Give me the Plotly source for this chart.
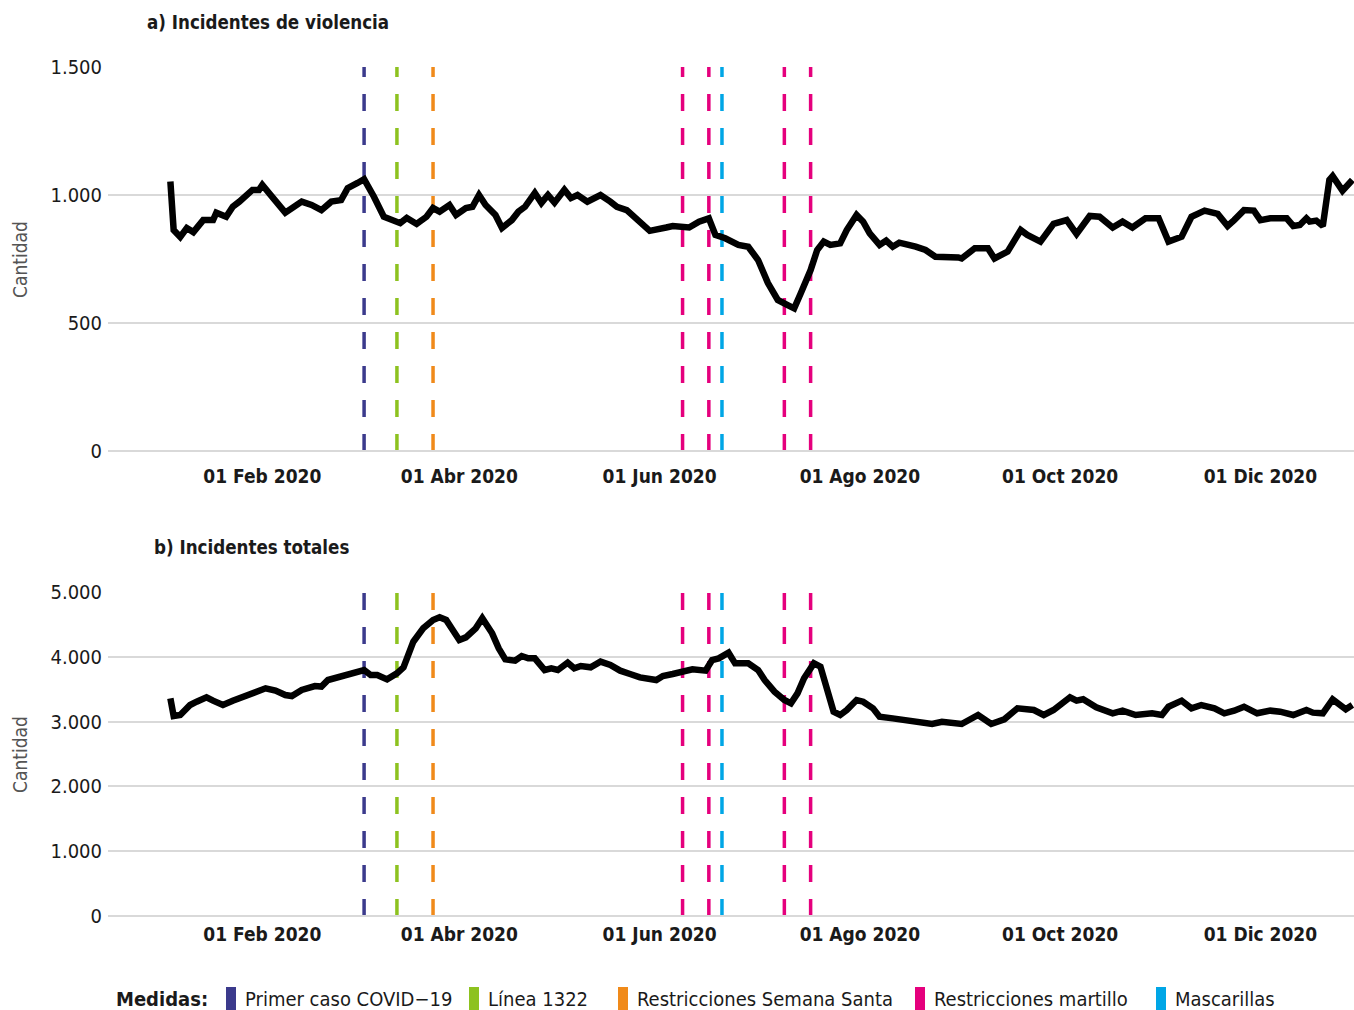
import plotly.graph_objects as go

# ---------------- data ----------------
viol_dates = [
    "2020-01-04", "2020-01-05", "2020-01-07", "2020-01-09", "2020-01-11", "2020-01-14", "2020-01-17",
    "2020-01-18", "2020-01-21", "2020-01-23", "2020-01-25", "2020-01-27", "2020-01-29", "2020-01-31",
    "2020-02-01", "2020-02-04", "2020-02-08", "2020-02-13", "2020-02-16", "2020-02-19", "2020-02-22",
    "2020-02-25", "2020-02-27", "2020-03-01", "2020-03-03", "2020-03-06", "2020-03-09", "2020-03-14",
    "2020-03-16", "2020-03-19", "2020-03-22", "2020-03-24", "2020-03-26", "2020-03-29", "2020-03-31",
    "2020-04-03", "2020-04-05", "2020-04-07", "2020-04-09", "2020-04-12", "2020-04-14", "2020-04-17",
    "2020-04-19", "2020-04-21", "2020-04-24", "2020-04-26", "2020-04-28", "2020-04-30", "2020-05-03",
    "2020-05-05", "2020-05-07", "2020-05-10", "2020-05-14", "2020-05-17", "2020-05-19", "2020-05-22",
    "2020-05-25", "2020-05-29", "2020-06-03", "2020-06-05", "2020-06-10", "2020-06-13", "2020-06-16",
    "2020-06-18", "2020-06-21", "2020-06-25", "2020-06-28", "2020-07-01", "2020-07-04", "2020-07-07",
    "2020-07-10", "2020-07-12", "2020-07-14", "2020-07-17", "2020-07-19", "2020-07-21", "2020-07-23",
    "2020-07-26", "2020-07-28", "2020-07-31", "2020-08-02", "2020-08-04", "2020-08-07", "2020-08-09",
    "2020-08-11", "2020-08-13", "2020-08-18", "2020-08-21", "2020-08-24", "2020-08-28", "2020-08-31",
    "2020-09-01", "2020-09-05", "2020-09-09", "2020-09-11", "2020-09-15", "2020-09-19", "2020-09-21",
    "2020-09-25", "2020-09-29", "2020-10-03", "2020-10-06", "2020-10-10", "2020-10-13", "2020-10-17",
    "2020-10-20", "2020-10-23", "2020-10-27", "2020-10-31", "2020-11-03", "2020-11-07", "2020-11-10",
    "2020-11-14", "2020-11-18", "2020-11-21", "2020-11-23", "2020-11-26", "2020-11-29", "2020-12-01",
    "2020-12-04", "2020-12-09", "2020-12-11", "2020-12-13", "2020-12-15", "2020-12-16", "2020-12-18",
    "2020-12-20", "2020-12-22", "2020-12-23", "2020-12-26", "2020-12-29",
]
viol_values = [
    1053, 863, 836, 871, 855, 902, 902,
    931, 915, 954, 974, 1000, 1020, 1020,
    1039, 993, 931, 974, 961, 941, 974,
    980, 1027, 1047, 1062, 993, 915, 890,
    910, 887, 915, 949, 935, 961, 922,
    949, 954, 1000, 961, 922, 871, 902,
    935, 954, 1008, 969, 1000, 970, 1020,
    988, 1000, 974, 1000, 974, 954, 941,
    909, 860, 873, 879, 873, 896, 909,
    844, 831, 805, 798, 746, 656, 590,
    570, 557, 616, 707, 785, 818, 805,
    811, 863, 922, 896, 850, 805, 822,
    798, 814, 798, 785, 759, 759, 756,
    752, 792, 792, 752, 779, 863, 844,
    818, 887, 902, 848, 918, 915, 873,
    896, 873, 909, 909, 818, 837, 915,
    939, 926, 879, 902, 941, 939, 902,
    909, 909, 879, 883, 909, 896, 900,
    879, 1059, 1074, 1017, 1059,
]

tot_dates = [
    "2020-01-04", "2020-01-05", "2020-01-07", "2020-01-10", "2020-01-12", "2020-01-15", "2020-01-17",
    "2020-01-20", "2020-01-23", "2020-01-27", "2020-01-30", "2020-02-02", "2020-02-05", "2020-02-08",
    "2020-02-10", "2020-02-13", "2020-02-17", "2020-02-19", "2020-02-21", "2020-02-24", "2020-02-28",
    "2020-03-03", "2020-03-05", "2020-03-07", "2020-03-10", "2020-03-13", "2020-03-15", "2020-03-18",
    "2020-03-21", "2020-03-24", "2020-03-26", "2020-03-28", "2020-03-30", "2020-04-01", "2020-04-03",
    "2020-04-06", "2020-04-08", "2020-04-11", "2020-04-13", "2020-04-15", "2020-04-18", "2020-04-20",
    "2020-04-22", "2020-04-24", "2020-04-27", "2020-04-29", "2020-05-01", "2020-05-04", "2020-05-06",
    "2020-05-08", "2020-05-11", "2020-05-14", "2020-05-17", "2020-05-20", "2020-05-23", "2020-05-26",
    "2020-05-31", "2020-06-02", "2020-06-05", "2020-06-08", "2020-06-11", "2020-06-15", "2020-06-17",
    "2020-06-19", "2020-06-22", "2020-06-24", "2020-06-28", "2020-07-01", "2020-07-03", "2020-07-06",
    "2020-07-09", "2020-07-11", "2020-07-13", "2020-07-15", "2020-07-18", "2020-07-20", "2020-07-22",
    "2020-07-24", "2020-07-26", "2020-07-28", "2020-07-31", "2020-08-02", "2020-08-05", "2020-08-07",
    "2020-08-11", "2020-08-14", "2020-08-18", "2020-08-23", "2020-08-26", "2020-08-29", "2020-09-01",
    "2020-09-06", "2020-09-10", "2020-09-14", "2020-09-18", "2020-09-23", "2020-09-26", "2020-09-29",
    "2020-10-04", "2020-10-06", "2020-10-08", "2020-10-12", "2020-10-17", "2020-10-20", "2020-10-24",
    "2020-10-29", "2020-11-01", "2020-11-03", "2020-11-07", "2020-11-10", "2020-11-13", "2020-11-17",
    "2020-11-20", "2020-11-23", "2020-11-26", "2020-11-30", "2020-12-04", "2020-12-07", "2020-12-11",
    "2020-12-15", "2020-12-17", "2020-12-20", "2020-12-23", "2020-12-27", "2020-12-29",
]
tot_values = [
    3359, 3086, 3102, 3256, 3307, 3375, 3323,
    3256, 3323, 3410, 3462, 3514, 3480, 3410,
    3395, 3488, 3549, 3540, 3642, 3683, 3735,
    3796, 3719, 3719, 3652, 3745, 3838, 4233,
    4439, 4568, 4609, 4568, 4414, 4259, 4300,
    4439, 4594, 4362, 4131, 3961, 3940, 4012,
    3976, 3976, 3796, 3820, 3796, 3909, 3822,
    3858, 3838, 3925, 3873, 3786, 3735, 3683,
    3642, 3704, 3735, 3770, 3807, 3786, 3951,
    3976, 4063, 3899, 3899, 3796, 3642, 3462,
    3333, 3282, 3436, 3668, 3899, 3847, 3488,
    3153, 3102, 3179, 3333, 3307, 3205, 3076,
    3050, 3025, 2983, 2963, 2998, 2983, 2963,
    3102, 2963, 3035, 3205, 3179, 3102, 3179,
    3375, 3323, 3344, 3220, 3128, 3169, 3102,
    3128, 3102, 3230, 3323, 3205, 3256, 3205,
    3128, 3169, 3230, 3128, 3169, 3153, 3102,
    3179, 3138, 3128, 3344, 3190, 3256,
]

# Measures (vertical dashed lines)
measure_names = ["Primer caso COVID\u221219", "L\u00ednea 1322", "Restricciones Semana Santa",
                 "Restricciones martillo", "Mascarillas"]
measure_colors = ["#3b3a8c", "#8dc21f", "#f08a1a", "#e5007d", "#00a6e6"]
measure_dates = [
    ["2020-03-03"],
    ["2020-03-13"],
    ["2020-03-24"],
    ["2020-06-08", "2020-06-16", "2020-07-09", "2020-07-17"],
    ["2020-06-20"],
]

tick_vals = ["2020-02-01", "2020-04-01", "2020-06-01", "2020-08-01", "2020-10-01", "2020-12-01"]
tick_text = ["01 Feb 2020", "01 Abr 2020", "01 Jun 2020", "01 Ago 2020", "01 Oct 2020", "01 Dic 2020"]

# ---------------- layout helpers ----------------
W, H = 1354, 1010
ML, MR, MT, MB = 108, 0, 67, 94
PW, PH = W - ML - MR, H - MT - MB


def px(x):
    return (x - ML) / PW


def py(y):
    return (H - MB - y) / PH


FONT = "DejaVu Sans Condensed, Liberation Sans Narrow, Roboto, sans-serif"

fig = go.Figure()
fig.add_trace(go.Scatter(x=viol_dates, y=viol_values, mode="lines",
                         line=dict(color="black", width=6.5), xaxis="x", yaxis="y",
                         showlegend=False, hoverinfo="x+y"))
fig.add_trace(go.Scatter(x=tot_dates, y=tot_values, mode="lines",
                         line=dict(color="black", width=6.5), xaxis="x2", yaxis="y2",
                         showlegend=False, hoverinfo="x+y"))

shapes = []
for name, color, dates in zip(measure_names, measure_colors, measure_dates):
    for d in dates:
        for xr, yr in (("x", "y domain"), ("x2", "y2 domain")):
            shapes.append(dict(type="line", xref=xr, yref=yr, x0=d, x1=d, y0=0, y1=1,
                               line=dict(color=color, width=3.5, dash="17px,17px"), layer="below"))

xrange = ["2019-12-16", "2020-12-29 12:00"]
top_dom = [(H - MB - 451) / PH, 1.0]
bot_dom = [0.0, (H - MB - 592) / PH]

axis_common = dict(showgrid=False, zeroline=False, showline=False, ticks="",
                   tickvals=tick_vals, ticktext=tick_text, range=xrange, type="date",
                   tickfont=dict(family=FONT, size=19, color="#1a1a1a", weight="bold"))
yaxis_common = dict(showgrid=True, gridcolor="#d9d9d9", gridwidth=1.5, zeroline=True,
                    zerolinecolor="#d9d9d9", zerolinewidth=1.5, showline=False, ticks="",
                    separatethousands=True, ticklabelstandoff=5,
                    tickfont=dict(family=FONT, size=20, color="#1a1a1a"))

annotations = [
    dict(text="<b>a) Incidentes de violencia</b>", xref="paper", yref="paper", x=px(145), y=py(22),
         xanchor="left", yanchor="middle", showarrow=False, font=dict(family=FONT, size=18.6, color="#1a1a1a")),
    dict(text="<b>b) Incidentes totales</b>", xref="paper", yref="paper", x=px(152), y=py(547),
         xanchor="left", yanchor="middle", showarrow=False, font=dict(family=FONT, size=18.6, color="#1a1a1a")),
    dict(text="Cantidad", xref="paper", yref="paper", x=px(20), y=py(260), textangle=-90,
         xanchor="center", yanchor="middle", showarrow=False, font=dict(family=FONT, size=19, color="#555555")),
    dict(text="Cantidad", xref="paper", yref="paper", x=px(20), y=py(755), textangle=-90,
         xanchor="center", yanchor="middle", showarrow=False, font=dict(family=FONT, size=19, color="#555555")),
    dict(text="<b>Medidas:</b>", xref="paper", yref="paper", x=px(114), y=py(999),
         xanchor="left", yanchor="middle", showarrow=False, font=dict(family=FONT, size=20, color="#1a1a1a")),
]

legend_swatch_x = [226, 469, 618, 915, 1156]
for name, color, sx in zip(measure_names, measure_colors, legend_swatch_x):
    shapes.append(dict(type="rect", xref="paper", yref="paper", x0=px(sx), x1=px(sx + 10),
                       y0=py(1010), y1=py(987), fillcolor=color, line=dict(width=0)))
    annotations.append(dict(text=name, xref="paper", yref="paper", x=px(sx + 17), y=py(999),
                            xanchor="left", yanchor="middle", showarrow=False,
                            font=dict(family=FONT, size=20, color="#1a1a1a")))

fig.update_layout(
    width=W, height=H,
    margin=dict(l=ML, r=MR, t=MT, b=MB, autoexpand=False),
    paper_bgcolor="white", plot_bgcolor="white",
    separators=",.",
    showlegend=False,
    xaxis=dict(domain=[0, 1], anchor="y", ticklabelstandoff=12, **axis_common),
    xaxis2=dict(domain=[0, 1], anchor="y2", ticklabelstandoff=5, **axis_common),
    yaxis=dict(domain=top_dom, anchor="x", range=[0, 1500], tickvals=[0, 500, 1000, 1500], **yaxis_common),
    yaxis2=dict(domain=bot_dom, anchor="x2", range=[0, 5000],
                tickvals=[0, 1000, 2000, 3000, 4000, 5000], **yaxis_common),
    shapes=shapes,
    annotations=annotations,
    font=dict(family=FONT),
)

fig.write_html("out.html")
